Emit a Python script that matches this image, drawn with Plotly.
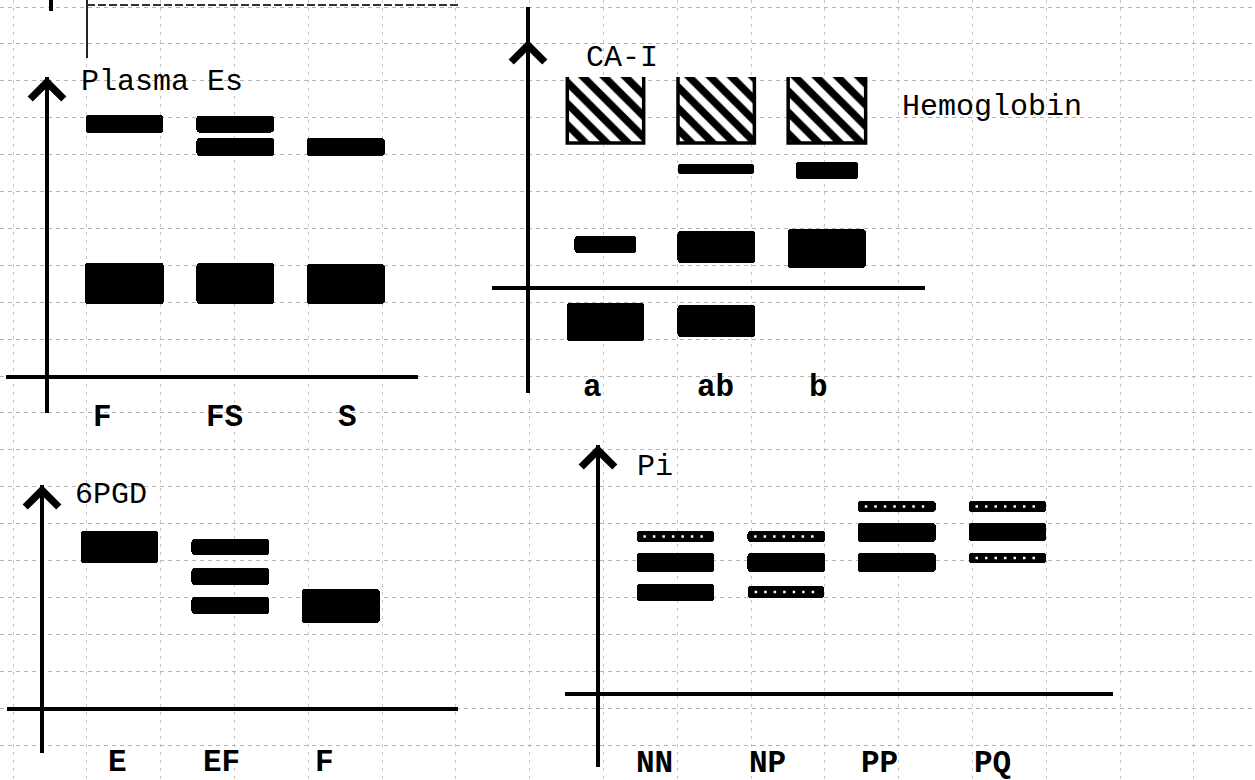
import plotly.graph_objects as go

W, H = 1255, 780
SX, SY = 110.7, 10.0      # px per lane unit / px per mobility unit
LANE0 = 0.7               # position of first lane (lane units from origin)

# ---------------- data ----------------
# Plasma Es
es_lanes = ["F", "FS", "S"]
es_band_lane = ["F", "F", "FS", "FS", "FS", "S", "S"]
es_band_pos = [25.3, 9.35, 25.3, 23.0, 9.35, 23.0, 9.3]
es_band_thick = [1.8, 4.1, 1.7, 1.8, 4.1, 1.8, 4.0]
es_band_width = [0.70, 0.71, 0.70, 0.70, 0.70, 0.70, 0.70]
es_band_style = ["solid", "solid", "solid", "solid", "solid", "solid", "solid"]
es_label_x = [0.50, 1.60, 2.71]

# CA-I / Hemoglobin
ca_lanes = ["a", "ab", "b"]
ca_band_lane = ["a", "ab", "b", "ab", "b", "a", "ab", "b", "a", "ab"]
ca_band_pos = [17.8, 17.8, 17.8, 11.9, 11.75, 4.35, 4.1, 3.95, -3.4, -3.3]
ca_band_thick = [6.6, 6.6, 6.6, 1.0, 1.7, 1.7, 3.2, 3.9, 3.8, 3.2]
ca_band_width = [0.69, 0.69, 0.70, 0.69, 0.56, 0.56, 0.70, 0.70, 0.70, 0.70]
ca_band_style = ["hatched", "hatched", "hatched", "solid", "solid",
                 "solid", "solid", "solid", "solid", "solid"]
ca_label_x = [0.58, 1.69, 2.62]

# 6PGD
pgd_lanes = ["E", "EF", "F"]
pgd_band_lane = ["E", "EF", "EF", "EF", "F"]
pgd_band_pos = [16.2, 16.2, 13.25, 10.35, 10.3]
pgd_band_thick = [3.2, 1.6, 1.7, 1.7, 3.4]
pgd_band_width = [0.70, 0.70, 0.70, 0.70, 0.70]
pgd_band_style = ["solid", "solid", "solid", "solid", "solid"]
pgd_label_x = [0.68, 1.62, 2.55]

# Pi
pi_lanes = ["NN", "NP", "PP", "PQ"]
pi_band_lane = ["NN", "NN", "NN", "NP", "NP", "NP", "PP", "PP", "PP", "PQ", "PQ", "PQ"]
pi_band_pos = [15.75, 13.15, 10.15, 15.75, 13.15, 10.2, 18.75, 16.15, 13.15, 18.75, 16.2, 13.6]
pi_band_thick = [1.1, 1.9, 1.7, 1.1, 1.9, 1.2, 1.1, 1.9, 1.9, 1.1, 1.8, 1.0]
pi_band_width = [0.70, 0.70, 0.70, 0.70, 0.70, 0.69, 0.70, 0.70, 0.70, 0.70, 0.70, 0.70]
pi_band_style = ["dotted", "solid", "solid", "dotted", "solid", "dotted",
                 "dotted", "solid", "solid", "dotted", "solid", "dotted"]
pi_label_x = [0.51, 1.53, 2.54, 3.56]

# ---------------- layout geometry (pixels) ----------------
panels = [
    dict(lanes=es_lanes, bl=es_band_lane, pos=es_band_pos, th=es_band_thick,
         wd=es_band_width, st=es_band_style, lx=es_label_x,
         box=(6, 77, 418, 413), origin=(47, 377), arrow_top=77, label_px=417,
         titles=[("Plasma Es", 79, 82)]),
    dict(lanes=ca_lanes, bl=ca_band_lane, pos=ca_band_pos, th=ca_band_thick,
         wd=ca_band_width, st=ca_band_style, lx=ca_label_x,
         box=(492, 7, 925, 393), origin=(528, 288), arrow_top=40, label_px=387,
         titles=[("CA-I", 584, 58), ("Hemoglobin", 900, 107)]),
    dict(lanes=pgd_lanes, bl=pgd_band_lane, pos=pgd_band_pos, th=pgd_band_thick,
         wd=pgd_band_width, st=pgd_band_style, lx=pgd_label_x,
         box=(7, 485, 458, 753), origin=(42, 709), arrow_top=485, label_px=762,
         titles=[("6PGD", 73, 495)]),
    dict(lanes=pi_lanes, bl=pi_band_lane, pos=pi_band_pos, th=pi_band_thick,
         wd=pi_band_width, st=pi_band_style, lx=pi_label_x,
         box=(565, 445, 1113, 767), origin=(598, 694), arrow_top=445, label_px=763,
         titles=[("Pi", 635, 467)]),
]

FONT = "Liberation Mono"
fig = go.Figure()
annotations = []

# background graph-paper grid on the first (full page) axis
fig.add_trace(go.Scatter(x=[0], y=[0], mode="markers", marker=dict(size=1, opacity=0),
                         hoverinfo="skip", showlegend=False, xaxis="x", yaxis="y"))
layout_axes = dict(
    xaxis=dict(domain=[0, 1], range=[0, W], showgrid=True, gridcolor="#c8c8c8",
               griddash="3px,5px", gridwidth=1, tick0=13, dtick=73.8,
               showticklabels=False, zeroline=False, ticks="", fixedrange=True),
    yaxis=dict(domain=[0, 1], range=[H, 0], showgrid=True, gridcolor="#b4b4b4",
               griddash="4px,4px", gridwidth=1, tick0=7, dtick=36.9,
               showticklabels=False, zeroline=False, ticks="", fixedrange=True),
)

for i, p in enumerate(panels):
    k = i + 2
    xr, yr = f"x{k}", f"y{k}"
    left, top, right, bottom = p["box"]
    ox, oy = p["origin"]
    layout_axes[f"xaxis{k}"] = dict(
        domain=[left / W, right / W], range=[(left - ox) / SX, (right - ox) / SX],
        anchor=yr, showgrid=False, showticklabels=False, ticks="", showline=False,
        zeroline=True, zerolinecolor="black", zerolinewidth=4, fixedrange=True)
    layout_axes[f"yaxis{k}"] = dict(
        domain=[1 - bottom / H, 1 - top / H], range=[(oy - bottom) / SY, (oy - top) / SY],
        anchor=xr, showgrid=False, showticklabels=False, ticks="", showline=False,
        zeroline=True, zerolinecolor="black", zerolinewidth=4, fixedrange=True)

    lane_x = {name: LANE0 + j for j, name in enumerate(p["lanes"])}
    bx = [lane_x[l] for l in p["bl"]]

    def sel(kind):
        return [n for n, s in enumerate(p["st"]) if s == kind]

    # solid + dotted bands: black bars
    for kind in ("solid", "dotted"):
        idx = sel(kind)
        if not idx:
            continue
        fig.add_trace(go.Bar(
            x=[bx[n] for n in idx], y=[p["th"][n] for n in idx],
            base=[p["pos"][n] - p["th"][n] / 2 for n in idx],
            width=[p["wd"][n] for n in idx],
            marker=dict(color="black", line=dict(width=0), cornerradius=3),
            xaxis=xr, yaxis=yr, showlegend=False, hoverinfo="skip"))
        if kind == "dotted":
            dx, dy = [], []
            for n in idx:
                dx += [bx[n] - p["wd"][n] / 2 + 0.06, bx[n] + p["wd"][n] / 2 - 0.06, None]
                dy += [p["pos"][n], p["pos"][n], None]
            fig.add_trace(go.Scatter(
                x=dx, y=dy, mode="lines",
                line=dict(color="white", width=2.5, dash="2.5px,7px"),
                xaxis=xr, yaxis=yr, showlegend=False, hoverinfo="skip"))

    # hatched bands
    idx = sel("hatched")
    if idx:
        fig.add_trace(go.Bar(
            x=[bx[n] for n in idx], y=[p["th"][n] for n in idx],
            base=[p["pos"][n] - p["th"][n] / 2 for n in idx],
            width=[p["wd"][n] for n in idx],
            marker=dict(color="white", line=dict(width=0),
                        pattern=dict(shape="\\", fgcolor="black", bgcolor="white",
                                     size=15, solidity=0.5, fgopacity=1)),
            xaxis=xr, yaxis=yr, showlegend=False, hoverinfo="skip"))
        ux, uy = [], []
        for n in idx:
            l_, r_ = bx[n] - p["wd"][n] / 2, bx[n] + p["wd"][n] / 2
            t_, b_ = p["pos"][n] + p["th"][n] / 2, p["pos"][n] - p["th"][n] / 2
            ux += [l_, l_, r_, r_, None]
            uy += [t_, b_, b_, t_, None]
        fig.add_trace(go.Scatter(
            x=ux, y=uy, mode="lines", line=dict(color="black", width=3.5),
            xaxis=xr, yaxis=yr, showlegend=False, hoverinfo="skip"))

    # arrowhead on the vertical axis
    ytop = (oy - p["arrow_top"]) / SY
    annotations.append(dict(
        x=0, y=ytop, ax=0, ay=ytop - 6, xref=xr, yref=yr, axref=xr, ayref=yr,
        text="", showarrow=True, arrowhead=4, arrowsize=1.9, arrowwidth=3.4,
        arrowcolor="black"))

    # titles
    for txt, tx, ty in p["titles"]:
        annotations.append(dict(
            x=(tx - ox) / SX, y=(oy - ty) / SY, xref=xr, yref=yr, text=txt,
            showarrow=False, xanchor="left", yanchor="middle",
            font=dict(family=FONT, size=30, color="black")))

    # lane labels (placed relative to the panel's y domain so they may sit below it)
    ly = (bottom - p["label_px"]) / (bottom - top)
    for name, lx in zip(p["lanes"], p["lx"]):
        annotations.append(dict(
            x=lx, y=ly, xref=xr, yref=f"{yr} domain", text=f"<b>{name}</b>",
            showarrow=False, xanchor="center", yanchor="middle",
            font=dict(family=FONT, size=31, color="black")))

# residual lines of the neighbouring figure at the top edge (page pixel axis)
shapes = [
    dict(type="line", xref="x", yref="y", x0=87, y0=0, x1=87, y1=58,
         line=dict(color="#222", width=2)),
    dict(type="line", xref="x", yref="y", x0=87, y0=5, x1=460, y1=5,
         line=dict(color="#333", width=2, dash="8px,3px")),
    dict(type="line", xref="x", yref="y", x0=51, y0=0, x1=51, y1=11,
         line=dict(color="black", width=4)),
]

fig.update_layout(
    width=W, height=H, autosize=False,
    margin=dict(l=0, r=0, t=0, b=0, pad=0),
    paper_bgcolor="white", plot_bgcolor="rgba(0,0,0,0)",
    barmode="overlay", bargap=0, showlegend=False,
    annotations=annotations, shapes=shapes,
    **layout_axes)

fig.write_html("out.html", config={"displayModeBar": False, "staticPlot": True},
               post_script="document.body.style.margin='0';")
